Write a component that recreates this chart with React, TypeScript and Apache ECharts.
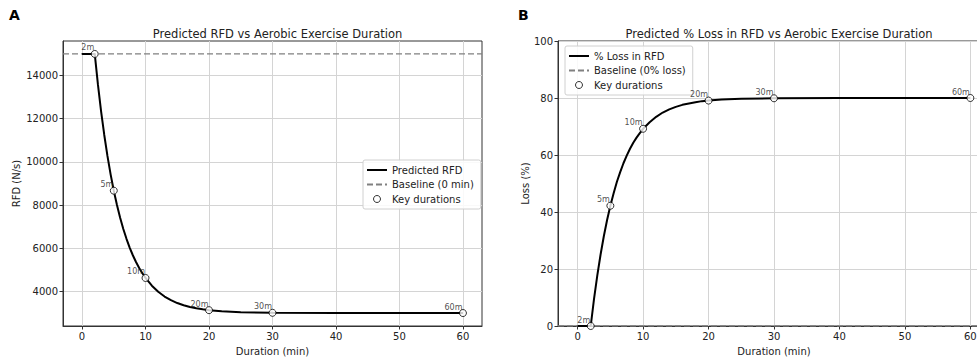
import React, { useEffect, useRef } from "react";
import * as echarts from "echarts";

const durations = [0, 2, 2.5, 3, 3.5, 4, 4.5, 5, 5.5, 6, 6.5, 7, 7.5, 8, 8.5, 9, 9.5, 10, 11, 12, 13, 14, 15, 16, 17, 18, 19, 20, 22, 25, 30, 40, 50, 60];
const predictedRFD = [15000, 15000, 13590, 12345, 11247, 10278, 9424, 8668, 8005, 7413, 6893, 6438, 6034, 5677, 5362, 5086, 4842, 4624, 4268, 3985, 3765, 3597, 3463, 3362, 3281, 3220, 3172, 3133, 3080, 3038, 3011, 3001, 3000, 3000];
const lossPct = [0, 0, 9.4, 17.7, 25.0, 31.5, 37.2, 42.2, 46.6, 50.6, 54.0, 57.1, 59.8, 62.2, 64.3, 66.1, 67.7, 69.2, 71.5, 73.4, 74.9, 76.0, 76.9, 77.6, 78.1, 78.5, 78.9, 79.1, 79.5, 79.7, 79.9, 80.0, 80.0, 80.0];

const keyDurations = [2, 5, 10, 20, 30, 60];
const keyLabels = ["2m", "5m", "10m", "20m", "30m", "60m"];
const keyRFD = [15000, 8668, 4624, 3133, 3011, 3000];
const keyLoss = [0, 42.2, 69.2, 79.1, 79.9, 80.0];

const baselineRFD = 15000;
const baselineLoss = 0;

const xTicks = [0, 10, 20, 30, 40, 50, 60];
const rfdTicks = [4000, 6000, 8000, 10000, 12000, 14000];
const lossTicks = [0, 20, 40, 60, 80, 100];

const X_MIN = -3;
const X_MAX = 63;

const FONT = "DejaVu Sans";
const TXT = "#222";
const FRAME = "#333";
const GRIDC = "#d4d4d4";

function makeXAxis(gridIndex: number) {
  return {
    type: "value",
    gridIndex,
    min: X_MIN,
    max: X_MAX,
    name: "Duration (min)",
    nameLocation: "middle",
    nameGap: 20,
    nameTextStyle: { fontFamily: FONT, fontSize: 10, color: TXT },
    axisLine: { show: true, onZero: false, lineStyle: { color: FRAME, width: 1 } },
    axisTick: { show: true, length: 3.5, customValues: xTicks, lineStyle: { color: FRAME } },
    axisLabel: { customValues: xTicks, fontFamily: FONT, fontSize: 10, color: TXT, margin: 5, formatter: (v: number) => String(v) },
    splitLine: { show: true, lineStyle: { color: GRIDC, width: 1 } },
  };
}

function makeYAxis(gridIndex: number, name: string, min: number, max: number, ticks: number[], gap: number) {
  return {
    type: "value",
    gridIndex,
    min,
    max,
    name,
    nameLocation: "middle",
    nameGap: gap,
    nameTextStyle: { fontFamily: FONT, fontSize: 10, color: TXT },
    axisLine: { show: true, onZero: false, lineStyle: { color: FRAME, width: 1 } },
    axisTick: { show: true, length: 3.5, customValues: ticks, lineStyle: { color: FRAME } },
    axisLabel: { customValues: ticks, fontFamily: FONT, fontSize: 10, color: TXT, margin: 5, formatter: (v: number) => String(v) },
    splitLine: { show: true, lineStyle: { color: GRIDC, width: 1 } },
  };
}

function keyLabelOpt() {
  return {
    show: true,
    position: "left",
    distance: 0,
    offset: [3.5, -6],
    fontFamily: FONT,
    fontSize: 8,
    color: TXT,
    formatter: (p: any) => keyLabels[p.dataIndex],
  };
}

const legendBase = {
  orient: "vertical",
  itemWidth: 20,
  itemHeight: 7,
  itemGap: 2.5,
  padding: [4, 7, 4, 3],
  backgroundColor: "rgba(255,255,255,0.85)",
  borderColor: "#d0d0d0",
  borderWidth: 1,
  borderRadius: 2,
  textStyle: { fontFamily: FONT, fontSize: 10, color: TXT, lineHeight: 12 },
};

const hiddenSym = { color: "rgba(0,0,0,0)", borderColor: "rgba(0,0,0,0)", borderWidth: 0, opacity: 0 };

export default function App() {
  const ref = useRef<HTMLDivElement>(null);
  useEffect(() => {
    if (!ref.current) return;
    const chart = echarts.init(ref.current, null, { renderer: "svg" });
    const curveA = durations.map((d, i) => [d, predictedRFD[i]]);
    const curveB = durations.map((d, i) => [d, lossPct[i]]);
    const keysA = keyDurations.map((d, i) => [d, keyRFD[i]]);
    const keysB = keyDurations.map((d, i) => [d, keyLoss[i]]);
    chart.setOption({
      animation: false,
      backgroundColor: "#fff",
      title: [
        {
          text: "Predicted RFD vs Aerobic Exercise Duration",
          left: 272.5,
          top: 23,
          textAlign: "center",
          textStyle: { fontFamily: FONT, fontSize: 11.5, fontWeight: "normal", color: TXT },
        },
        {
          text: "Predicted % Loss in RFD vs Aerobic Exercise Duration",
          left: 774,
          top: 23,
          textAlign: "center",
          textStyle: { fontFamily: FONT, fontSize: 11.5, fontWeight: "normal", color: TXT },
        },
      ],
      graphic: [
        { type: "text", left: 9, top: 8, style: { text: "A", font: `bold 14px ${FONT}`, fill: "#000" } },
        { type: "text", left: 518, top: 8, style: { text: "B", font: `bold 14px ${FONT}`, fill: "#000" } },
      ],
      legend: [
        {
          ...legendBase,
          left: 363,
          top: 160,
          data: [
            { name: "Predicted RFD", itemStyle: hiddenSym },
            { name: "Baseline (0 min)", itemStyle: hiddenSym },
            { name: "Key durations A", itemStyle: { borderWidth: 1 } },
          ],
          formatter: (n: string) => n.replace(" A", ""),
        },
        {
          ...legendBase,
          left: 565,
          top: 46,
          data: [
            { name: "% Loss in RFD", itemStyle: hiddenSym },
            { name: "Baseline (0% loss)", itemStyle: hiddenSym },
            { name: "Key durations B", itemStyle: { borderWidth: 1 } },
          ],
          formatter: (n: string) => n.replace(" B", ""),
        },
      ],
      grid: [
        { left: 63, top: 41, width: 419, height: 285, show: true, borderColor: FRAME, borderWidth: 1, backgroundColor: "transparent" },
        { left: 558, top: 41, width: 432, height: 285, show: true, borderColor: FRAME, borderWidth: 1, backgroundColor: "transparent" },
      ],
      xAxis: [makeXAxis(0), makeXAxis(1)],
      yAxis: [
        makeYAxis(0, "RFD (N/s)", 2400, 15600, rfdTicks, 42),
        makeYAxis(1, "Loss (%)", 0, 100, lossTicks, 28),
      ],
      series: [
        {
          name: "Baseline (0 min)",
          type: "line",
          xAxisIndex: 0,
          yAxisIndex: 0,
          symbol: "none",
          data: [[X_MIN, baselineRFD], [X_MAX, baselineRFD]],
          itemStyle: { color: "#808080" },
          lineStyle: { color: "#808080", width: 1.3, type: [6, 3] },
          z: 2,
        },
        {
          name: "Predicted RFD",
          type: "line",
          xAxisIndex: 0,
          yAxisIndex: 0,
          symbol: "none",
          data: curveA,
          itemStyle: { color: "#000" },
          lineStyle: { color: "#000", width: 2 },
          z: 3,
        },
        {
          name: "Key durations A",
          type: "scatter",
          xAxisIndex: 0,
          yAxisIndex: 0,
          symbol: "circle",
          symbolSize: 7,
          data: keysA,
          itemStyle: { color: "#fff", borderColor: "#000", borderWidth: 1 },
          label: keyLabelOpt(),
          z: 4,
        },
        {
          name: "Baseline (0% loss)",
          type: "line",
          xAxisIndex: 1,
          yAxisIndex: 1,
          symbol: "none",
          data: [[X_MIN, baselineLoss], [X_MAX, baselineLoss]],
          itemStyle: { color: "#808080" },
          lineStyle: { color: "#808080", width: 1.3, type: [6, 3] },
          z: 2,
        },
        {
          name: "% Loss in RFD",
          type: "line",
          xAxisIndex: 1,
          yAxisIndex: 1,
          symbol: "none",
          data: curveB,
          itemStyle: { color: "#000" },
          lineStyle: { color: "#000", width: 2 },
          z: 3,
        },
        {
          name: "Key durations B",
          type: "scatter",
          xAxisIndex: 1,
          yAxisIndex: 1,
          symbol: "circle",
          symbolSize: 7,
          data: keysB,
          itemStyle: { color: "#fff", borderColor: "#000", borderWidth: 1 },
          label: keyLabelOpt(),
          z: 4,
        },
      ],
    });
    return () => chart.dispose();
  }, []);
  return (
    <div style={{ position: "fixed", left: 0, top: 0, width: 977, height: 361, overflow: "hidden", background: "#fff" }}>
      <div ref={ref} style={{ width: 1000, height: 361 }} />
    </div>
  );
}
